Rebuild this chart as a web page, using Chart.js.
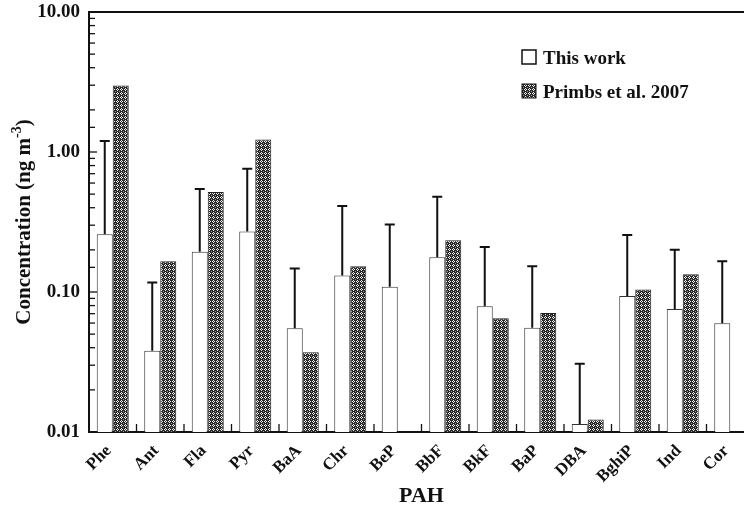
<!DOCTYPE html>
<html>
<head>
<meta charset="utf-8">
<script src="https://cdn.jsdelivr.net/npm/chart.js@4.4.1/dist/chart.umd.min.js"></script>
<style>
  html, body { margin: 0; padding: 0; background: #fff; overflow: hidden; }
  #wrap { width: 754px; height: 507px; position: relative; }
</style>
</head>
<body>
<div id="wrap"><canvas id="myChart"></canvas></div>
<script>
const pahs = ["Phe", "Ant", "Fla", "Pyr", "BaA", "Chr", "BeP", "BbF", "BkF", "BaP", "DBA", "BghiP", "Ind", "Cor"];
const thisWork = [0.258, 0.038, 0.194, 0.27, 0.055, 0.131, 0.109, 0.177, 0.079, 0.0556, 0.0114, 0.0936, 0.0756, 0.0598];
const thisWorkUpper = [1.2, 0.117, 0.544, 0.76, 0.147, 0.411, 0.304, 0.48, 0.21, 0.153, 0.0307, 0.255, 0.2, 0.166];
const primbs2007 = [2.99, 0.166, 0.518, 1.23, 0.0371, 0.153, null, 0.234, 0.0649, 0.0708, 0.0123, 0.104, 0.134, null];
const yTickLabels = ["0.01", "0.10", "1.00", "10.00"];

const serif = "'Liberation Serif', 'DejaVu Serif', serif";

// dark crosshatch with white dots
function makePattern() {
    const c = document.createElement('canvas');
    c.width = 4; c.height = 4;
    const g = c.getContext('2d');
    g.fillStyle = '#262626';
    g.fillRect(0, 0, 4, 4);
    g.fillStyle = '#f4f4f4';
    g.fillRect(1, 0, 1, 1);
    g.fillRect(0, 1, 1, 1);
    g.fillRect(2, 1, 1, 1);
    g.fillRect(1, 2, 1, 1);
    g.fillStyle = '#9a9a9a';
    g.fillRect(3, 3, 1, 1);
    return g.createPattern(c, 'repeat');
}
const dots = makePattern();

// error bars (upper only), inward ticks, top frame, legend, y title
const extras = {
    id: 'extras',
    afterDatasetsDraw(chart) {
        const ctx = chart.ctx;
        const y = chart.scales.y, x = chart.scales.x;
        const area = chart.chartArea;
        const meta = chart.getDatasetMeta(0);
        ctx.save();
        ctx.strokeStyle = '#111';
        ctx.lineWidth = 2;
        meta.data.forEach((bar, i) => {
            const top = y.getPixelForValue(thisWorkUpper[i]);
            ctx.beginPath();
            ctx.moveTo(bar.x, bar.y);
            ctx.lineTo(bar.x, top);
            ctx.moveTo(bar.x - 5, top);
            ctx.lineTo(bar.x + 5, top);
            ctx.stroke();
        });

        // y ticks inside the frame
        ctx.lineWidth = 1.3;
        y.ticks.forEach(t => {
            const py = y.getPixelForValue(t.value);
            const major = yTickLabels.includes(t.label);
            ctx.beginPath();
            ctx.moveTo(area.left, py);
            ctx.lineTo(area.left + (major ? 8 : 6), py);
            ctx.stroke();
        });
        // x ticks between categories
        for (let i = 1; i < pahs.length; i++) {
            const px = (x.getPixelForTick(i - 1) + x.getPixelForTick(i)) / 2;
            ctx.beginPath();
            ctx.moveTo(px, area.bottom);
            ctx.lineTo(px, area.bottom - 8);
            ctx.stroke();
        }
        // top frame line
        ctx.lineWidth = 2;
        ctx.beginPath();
        ctx.moveTo(area.left, area.top);
        ctx.lineTo(area.right, area.top);
        ctx.stroke();

        // legend
        ctx.lineWidth = 1.5;
        ctx.fillStyle = '#fff';
        ctx.fillRect(522, 50, 14, 14);
        ctx.strokeRect(522, 50, 14, 14);
        ctx.fillStyle = dots;
        ctx.fillRect(522, 84, 14, 14);
        ctx.lineWidth = 1;
        ctx.strokeRect(522, 84, 14, 14);
        ctx.fillStyle = '#111';
        ctx.font = 'bold 19px ' + serif;
        ctx.textBaseline = 'alphabetic';
        ctx.textAlign = 'left';
        ctx.fillText('This work', 543, 64);
        ctx.fillText('Primbs et al. 2007', 543, 98);

        // y axis title with superscript
        const mid = (area.top + area.bottom) / 2;
        ctx.translate(30, mid);
        ctx.rotate(-Math.PI / 2);
        const big = 'bold 21px ' + serif, small = 'bold 14px ' + serif;
        const a = 'Concentration (ng m', b = '-3', c = ')';
        ctx.font = big; const wa = ctx.measureText(a).width, wc = ctx.measureText(c).width;
        ctx.font = small; const wb = ctx.measureText(b).width;
        let sx = -(wa + wb + wc) / 2;
        ctx.font = big; ctx.fillText(a, sx, 0);
        ctx.font = small; ctx.fillText(b, sx + wa, -9);
        ctx.font = big; ctx.fillText(c, sx + wa + wb, 0);
        ctx.restore();
    }
};

new Chart(document.getElementById('myChart'), {
    type: 'bar',
    data: {
        labels: pahs,
        datasets: [{
            label: 'This work',
            data: thisWork,
            backgroundColor: '#ffffff',
            borderColor: '#333',
            borderWidth: 1
        }, {
            label: 'Primbs et al. 2007',
            data: primbs2007,
            backgroundColor: dots,
            borderColor: '#222',
            borderWidth: 1
        }]
    },
    options: {
        responsive: true,
        maintainAspectRatio: false,
        animation: false,
        layout: { padding: { top: 12, right: 0, left: 0, bottom: 0 } },
        datasets: {
            bar: { categoryPercentage: 0.674, barPercentage: 1.0 }
        },
        plugins: {
            legend: { display: false },
            tooltip: { enabled: false }
        },
        scales: {
            x: {
                grid: { display: false, drawTicks: false },
                border: { display: true, width: 2, color: '#111' },
                ticks: {
                    maxRotation: 45,
                    minRotation: 45,
                    padding: 9,
                    labelOffset: -4,
                    color: '#111',
                    font: { family: serif, size: 17, weight: 'bold' }
                },
                title: {
                    display: true,
                    text: 'PAH',
                    color: '#111',
                    font: { family: serif, size: 22, weight: 'bold' },
                    padding: { top: 0, bottom: -3 }
                },
                afterFit(scale) { scale.height = 75; }
            },
            y: {
                type: 'logarithmic',
                min: 0.01,
                max: 10,
                grid: { display: false, drawTicks: false },
                border: { display: true, width: 2, color: '#111' },
                ticks: {
                    autoSkip: false,
                    padding: 9,
                    color: '#111',
                    font: { family: serif, size: 19, weight: 'bold' },
                    callback: function (v) {
                        const l = Math.log10(v);
                        if (Math.abs(l - Math.round(l)) < 1e-6) {
                            return yTickLabels[Math.round(l) + 2];
                        }
                        return '';
                    }
                },
                afterFit(scale) {
                    scale.width = 89;
                    scale.paddingTop = 0;
                    scale.paddingBottom = 0;
                }
            }
        }
    },
    plugins: [extras]
});
</script>
</body>
</html>
